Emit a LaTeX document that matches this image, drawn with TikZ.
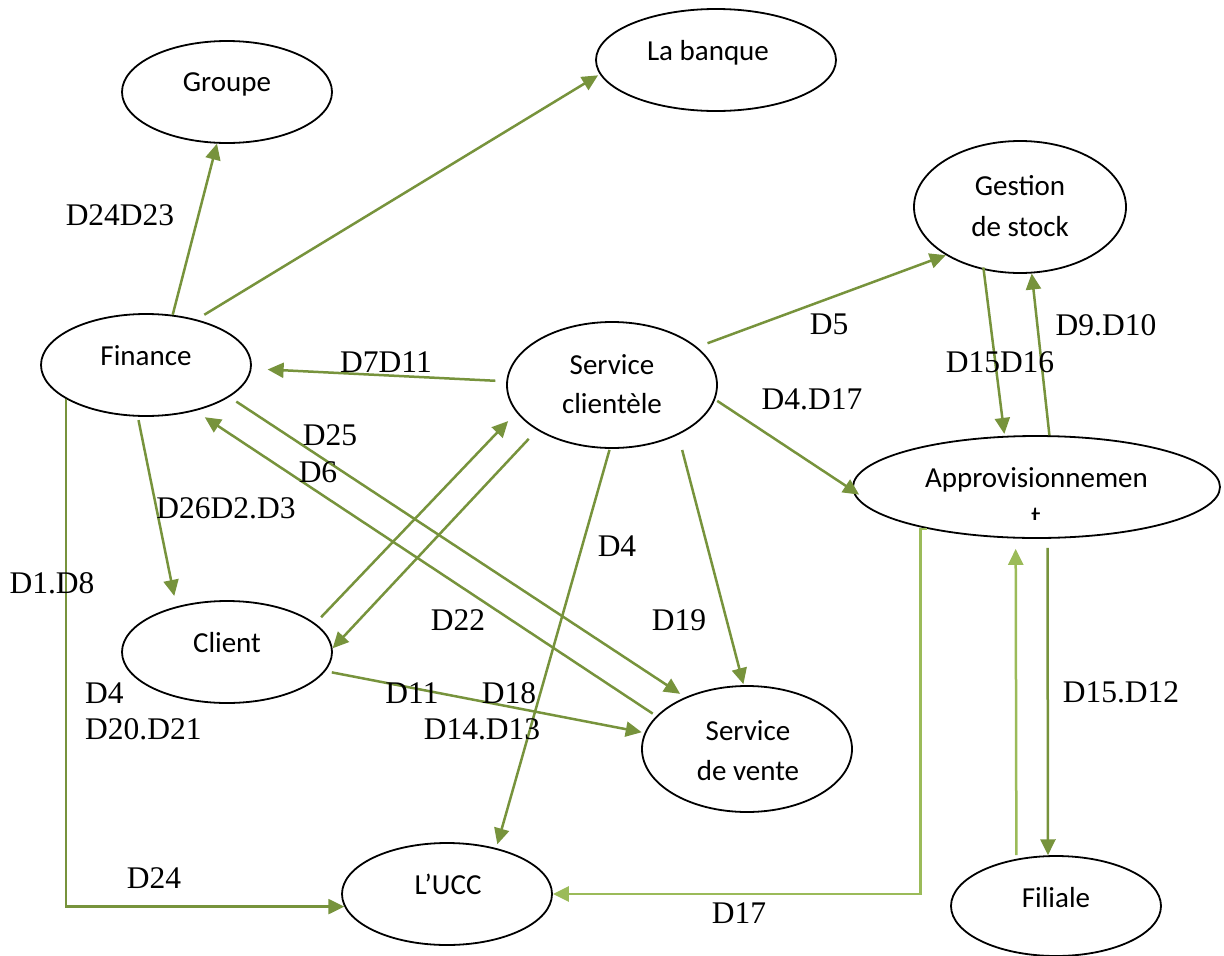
\documentclass[tikz,border=0pt]{standalone}
\usepackage{fontspec}
\setmainfont{Liberation Serif}
\newfontfamily\calib{Carlito}
\usetikzlibrary{arrows.meta,shapes.geometric}
\definecolor{flowgreen}{HTML}{77933C}
\definecolor{feedgreen}{HTML}{9BBB59}
\begin{document}
\begin{tikzpicture}[x=1pt,y=-1pt,
  proc/.style={ellipse,draw=black,line width=1.8pt,fill=white,inner sep=0pt},
  ptext/.style={font=\calib\fontsize{29}{35}\selectfont,anchor=base,inner sep=0pt},
  flow/.style={draw=flowgreen,line width=2.5pt,-{Triangle[length=16pt,width=15pt]}},
  feed/.style={flow,draw=feedgreen},
  dlabel/.style={font=\fontsize{31.5}{36}\selectfont,inner sep=0pt}]
\useasboundingbox (0,0) rectangle (1224,956);

% processes
\node[proc,minimum width=210pt,minimum height=102pt] (grp) at (227,92) {};
\node[proc,minimum width=240pt,minimum height=102pt] (bnk) at (716,60) {};
\node[proc,minimum width=212pt,minimum height=132pt] (gst) at (1020,207) {};
\node[proc,minimum width=210pt,minimum height=102pt] (fin) at (146,365) {};
\node[proc,minimum width=210pt,minimum height=126pt] (sc) at (612,385) {};
\node[proc,minimum width=367pt,minimum height=102pt] (app) at (1036.5,487) {};
\node[proc,minimum width=210pt,minimum height=102pt] (cli) at (227,652) {};
\node[proc,minimum width=210pt,minimum height=126pt] (sv) at (747,749) {};
\node[proc,minimum width=210pt,minimum height=102pt] (ucc) at (447,894) {};
\node[proc,minimum width=210pt,minimum height=100pt] (fil) at (1056,906) {};

% process names
\node[ptext] (grp-t) at (227,91) {Groupe};
\node[ptext] (bnk-t) at (708,60) {La banque};
\node[ptext] (gst-t1) at (1020,195) {Gestion};
\node[ptext] (gst-t2) at (1020,236) {de stock};
\node[ptext] (fin-t) at (146,365) {Finance};
\node[ptext] (sc-t1) at (612,374) {Service};
\node[ptext] (sc-t2) at (612,413) {clientèle};
\node[ptext] (app-t1) at (1036.5,487) {Approvisionnemen};
\begin{scope}
  \clip (900,440) rectangle (1180,519);
  \node[ptext] (app-t2) at (1036,526) {t};
\end{scope}
\node[ptext] (cli-t) at (227,652) {Client};
\node[ptext] (sv-t1) at (748,740) {Service};
\node[ptext] (sv-t2) at (748,780) {de vente};
\node[ptext] (ucc-t) at (448,894) {L’UCC};
\node[ptext] (fil-t) at (1056,907) {Filiale};

% flows
\draw[flow] (fin.62) -- (grp.259);
\draw[flow,shorten <=9pt,shorten >=2pt] (fin.42.3) -- (bnk.187.2);
\draw[flow,shorten <=11pt] (sc.24.1) -- (gst.213.7);
\draw[flow,shorten <=11pt,shorten >=16pt] (sc.178.5) -- (fin.358.6);
\draw[flow,shorten <=2.5pt,shorten >=-8pt] (sc.352.4) -- (app.181);
\draw[flow,shorten <=-2.5pt,shorten >=2pt] (gst.240.5) -- (app.122.8);
\draw[flow] (app.76) -- (gst.280.3);
\draw[flow,shorten <=3.4pt,shorten >=10.7pt] (fin.261.6) -- (cli.138.1);
\draw[flow,shorten <=8.3pt,shorten >=6pt] (fin.339.5) -- (sv.140.2);
\draw[flow,shorten <=4.3pt,shorten >=11.4pt] (sv.160.1) -- (fin.317.1);
\draw[flow,shorten <=8.5pt,shorten >=11.9pt] (cli.18.8) -- (sc.196.9);
\draw[flow,shorten <=12pt] (sc.211.3) -- (cli.2.7);
\draw[flow,shorten <=6.5pt,shorten >=2.9pt] (cli.349.1) -- (sv.171.9);
\draw[flow,shorten <=15.6pt,shorten >=1pt] (sc.323.5) -- (sv.93.6);
\draw[flow,shorten <=1pt,shorten >=3.9pt] (sc.268.2) -- (ucc.43.3);
\draw[flow] (fin.203.5) |- (ucc.187.6);
\draw[feed] (app.201) -- ++(-7,0) |- (ucc.east);
\draw[feed,shorten <=3.8pt,shorten >=10.3pt] (fil.130.9) -- (app.248);
\draw[flow,shorten <=9.1pt] (app.282.7) -- (fil.99.1);

% data labels
\node[dlabel] (l-d24d23) at (120,215) {D24D23};
\node[dlabel] (l-d7d11) at (386,362) {D7D11};
\node[dlabel] (l-d5) at (829,324) {D5};
\node[dlabel] (l-d4d17) at (812,399) {D4.D17};
\node[dlabel] (l-d15d16) at (1000,362) {D15D16};
\node[dlabel] (l-d9d10) at (1106,325) {D9.D10};
\node[dlabel] (l-d25) at (330,435) {D25};
\node[dlabel] (l-d6) at (318,472) {D6};
\node[dlabel] (l-d26) at (226,508) {D26D2.D3};
\node[dlabel] (l-d1d8) at (52,583) {D1.D8};
\node[dlabel,anchor=west] (l-d4a) at (85,693) {D4};
\node[dlabel,anchor=west] (l-d20) at (85,729) {D20.D21};
\node[dlabel] (l-d4b) at (617,546) {D4};
\node[dlabel] (l-d22) at (458,620) {D22};
\node[dlabel] (l-d19) at (679,620) {D19};
\node[dlabel] (l-d11) at (412,693) {D11};
\node[dlabel] (l-d18) at (509,693) {D18};
\node[dlabel] (l-d14) at (482,729) {D14.D13};
\node[dlabel] (l-d15d12) at (1121,692) {D15.D12};
\node[dlabel] (l-d24) at (154,878) {D24};
\node[dlabel] (l-d17) at (739,913) {D17};
\end{tikzpicture}
\end{document}
